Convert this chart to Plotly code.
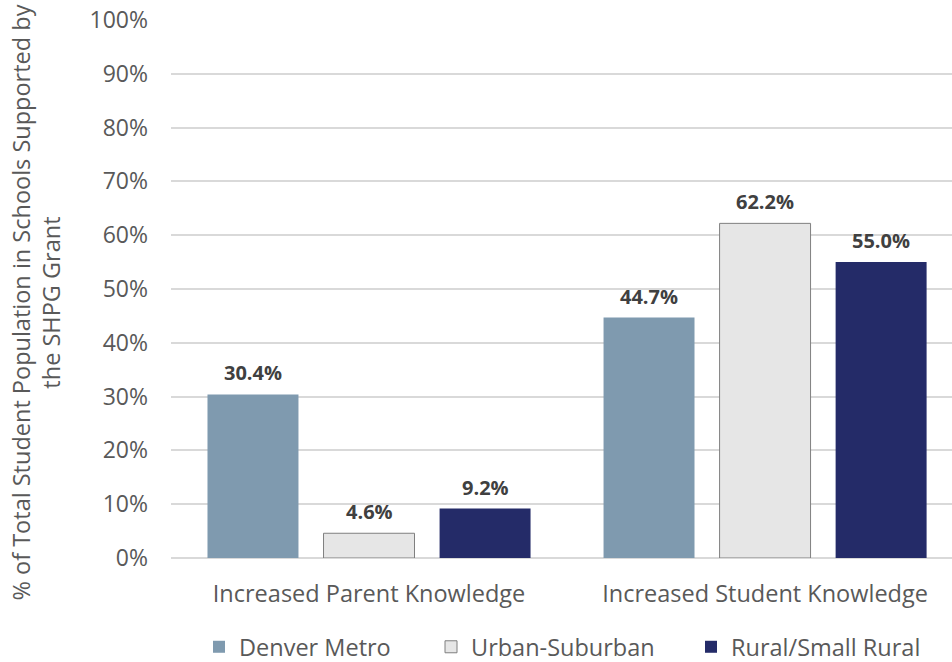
import plotly.graph_objects as go

# Outcome categories and per-region shares (% of total student population)
categories = ["Increased Parent Knowledge", "Increased Student Knowledge"]
regions = ["Denver Metro", "Urban-Suburban", "Rural/Small Rural"]
denver_metro = [30.4, 44.7]
urban_suburban = [4.6, 62.2]
rural_small_rural = [9.2, 55.0]
y_ticks = [0, 10, 20, 30, 40, 50, 60, 70, 80, 90, 100]
y_tick_labels = [f"{t}%" for t in y_ticks]

series = [denver_metro, urban_suburban, rural_small_rural]
fills = ["#7F9AAF", "#E6E6E6", "#242B68"]
outlines = ["#7F9AAF", "#7F7F7F", "#242B68"]
outline_w = [0, 1, 0]
legend_ids = ["legend", "legend2", "legend3"]
legend_left_px = [199, 431, 691]

FONT = "Open Sans"
W, H = 952, 662
M_L, M_R, M_T, M_B = 171, 0, 20, 104
PLOT_W = W - M_L - M_R
PLOT_H = H - M_T - M_B

BARGAP = 0.121
BARGROUPGAP = 0.216
X_RANGE = [-0.5, 1.472]

x_pos = list(range(len(categories)))

fig = go.Figure()
for name, vals, fc, lc, lw, lg in zip(regions, series, fills, outlines, outline_w, legend_ids):
    fig.add_trace(go.Bar(
        x=x_pos, y=vals, name=name, legend=lg,
        marker=dict(color=fc, line=dict(color=lc, width=lw)),
        hoverinfo="skip",
    ))

# value labels centred over each bar of the group
slot = (1 - BARGAP) / len(series)
for k, vals in enumerate(series):
    offset = (k - (len(series) - 1) / 2) * slot
    for i, v in enumerate(vals):
        fig.add_annotation(
            x=x_pos[i] + offset, y=v, xref="x", yref="y",
            text=f"<b>{v:.1f}%</b>", showarrow=False,
            yanchor="bottom", yshift=6,
            font=dict(family=FONT, size=20, color="#404040"),
        )

# two-line y-axis title
title_y_px = 303
fig.add_annotation(
    xref="paper", yref="paper",
    x=-(M_L - 2) / PLOT_W, y=(M_T + PLOT_H - title_y_px) / PLOT_H,
    xanchor="left", yanchor="middle",
    text="% of Total Student Population in Schools Supported by<br>the SHPG Grant",
    textangle=-90, showarrow=False,
    font=dict(family=FONT, size=23.5, color="#595959"),
)

legend_style = dict(
    orientation="h", xanchor="left",
    y=-(647 - M_T - PLOT_H) / PLOT_H, yanchor="middle",
    font=dict(family=FONT, size=23.5, color="#595959"),
    bgcolor="rgba(0,0,0,0)",
)
legends = {
    lg: dict(legend_style, x=(px - M_L) / PLOT_W)
    for lg, px in zip(legend_ids, legend_left_px)
}

fig.update_layout(
    width=W, height=H,
    margin=dict(l=M_L, r=M_R, t=M_T, b=M_B, pad=0, autoexpand=False),
    paper_bgcolor="white", plot_bgcolor="white",
    barmode="group", bargap=BARGAP, bargroupgap=BARGROUPGAP,
    font=dict(family=FONT, color="#595959"),
    showlegend=True,
    xaxis=dict(
        range=X_RANGE, tickvals=x_pos, ticktext=categories,
        showgrid=False, zeroline=False, showline=False, ticks="",
        tickfont=dict(family=FONT, size=23.5, color="#595959"),
        ticklabelstandoff=19, automargin=False,
    ),
    yaxis=dict(
        range=[0, 100], tickvals=y_ticks, ticktext=y_tick_labels,
        showgrid=True, gridcolor="#D9D9D9", gridwidth=1.5,
        zeroline=True, zerolinecolor="#D9D9D9", zerolinewidth=1.5,
        showline=False, ticks="",
        tickfont=dict(family=FONT, size=23, color="#595959"),
        ticklabelstandoff=22, automargin=False,
    ),
    **legends,
)

fig.write_html("out.html")
